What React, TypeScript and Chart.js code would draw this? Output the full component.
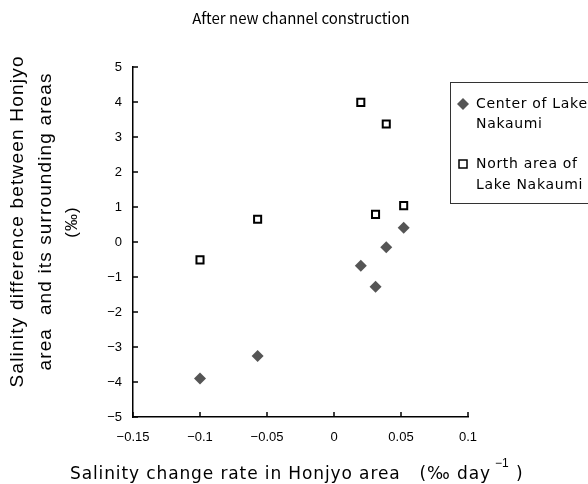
import React, { useEffect, useRef } from "react";
import { Chart, registerables } from "chart.js";

Chart.register(...registerables);

const centerX = [-0.1, -0.057, 0.02, 0.031, 0.039, 0.052];
const centerY = [-3.9, -3.26, -0.68, -1.28, -0.15, 0.41];
const northX = [-0.1, -0.057, 0.02, 0.031, 0.039, 0.052];
const northY = [-0.51, 0.65, 3.99, 0.79, 3.37, 1.04];

const seriesNames = [["Center of Lake", "Nakaumi"], ["North area of", "Lake Nakaumi"]];
const chartTitle = "After new channel construction";
const yTitleLines = ["Salinity difference between Honjyo", "area  and its surrounding areas", "(‰)"];
const xTitle = "Salinity change rate in Honjyo area   (‰ day";

const W = 588;
const H = 484;
const LEFT = 133;
const RIGHT = 468;
const TOP = 67;
const BOTTOM = 417;

const GOTHIC = "'Noto Sans CJK JP', 'Noto Sans', sans-serif";
const DEJAVU = "'DejaVu Sans', sans-serif";
const ARIAL = "'Liberation Sans', Arial, sans-serif";

function spacingFor(ctx: any, text: string, target: number) {
  ctx.letterSpacing = "0px";
  const w = ctx.measureText(text).width;
  return (target - w) / Math.max(1, text.length - 1);
}

const decorPlugin = {
  id: "decor",
  afterDraw(chart: any) {
    const ctx = chart.ctx;
    const xs = chart.scales.x;
    const ys = chart.scales.y;
    const area = chart.chartArea;
    ctx.save();
    // inside ticks
    ctx.strokeStyle = "#000";
    ctx.lineWidth = 1.5;
    ys.ticks.forEach((t: any) => {
      const py = ys.getPixelForValue(t.value);
      ctx.beginPath();
      ctx.moveTo(area.left, py);
      ctx.lineTo(area.left + 5, py);
      ctx.stroke();
    });
    xs.ticks.forEach((t: any) => {
      const px = xs.getPixelForValue(t.value);
      ctx.beginPath();
      ctx.moveTo(px, area.bottom);
      ctx.lineTo(px, area.bottom - 5);
      ctx.stroke();
    });
    // title
    ctx.fillStyle = "#000";
    ctx.textAlign = "center";
    ctx.textBaseline = "middle";
    ctx.font = `15px ${GOTHIC}`;
    ctx.fillText(chartTitle, 301, 18);
    // x title
    ctx.textAlign = "left";
    ctx.textBaseline = "alphabetic";
    ctx.font = `17px ${DEJAVU}`;
    const xs1 = spacingFor(ctx, xTitle, 490 - 70);
    ctx.letterSpacing = `${xs1}px`;
    ctx.fillText(xTitle, 70, 479);
    ctx.letterSpacing = "0px";
    ctx.font = `12px ${ARIAL}`;
    ctx.fillText("−1", 495, 467);
    ctx.font = `17px ${DEJAVU}`;
    ctx.fillText(")", 516, 479);
    // y title
    ctx.save();
    ctx.translate(0, 222);
    ctx.rotate(-Math.PI / 2);
    ctx.textAlign = "center";
    ctx.textBaseline = "alphabetic";
    ctx.font = `19px ${ARIAL}`;
    const s1 = spacingFor(ctx, yTitleLines[0], 331);
    ctx.letterSpacing = `${s1}px`;
    ctx.fillText(yTitleLines[0], s1 / 2, 23);
    const s2 = spacingFor(ctx, yTitleLines[1], 297);
    ctx.letterSpacing = `${s2}px`;
    ctx.fillText(yTitleLines[1], s2 / 2, 51);
    ctx.letterSpacing = "1px";
    ctx.font = `17px ${ARIAL}`;
    ctx.fillText(yTitleLines[2], 0, 77);
    ctx.letterSpacing = "0px";
    ctx.restore();
    // legend
    ctx.strokeStyle = "#333";
    ctx.lineWidth = 1;
    ctx.strokeRect(450.5, 82.5, 150, 121);
    ctx.font = `14px ${DEJAVU}`;
    ctx.textAlign = "left";
    ctx.textBaseline = "middle";
    const ls = spacingFor(ctx, seriesNames[0][0], 111);
    // diamond
    ctx.fillStyle = "#555";
    ctx.beginPath();
    ctx.moveTo(463, 98);
    ctx.lineTo(469, 104);
    ctx.lineTo(463, 110);
    ctx.lineTo(457, 104);
    ctx.closePath();
    ctx.fill();
    ctx.fillStyle = "#000";
    ctx.letterSpacing = `${ls}px`;
    ctx.fillText(seriesNames[0][0], 476, 104);
    ctx.fillText(seriesNames[0][1], 476, 124);
    ctx.letterSpacing = "0px";
    // square
    ctx.fillStyle = "#fff";
    ctx.strokeStyle = "#000";
    ctx.lineWidth = 1.5;
    ctx.fillRect(459, 160, 8, 8);
    ctx.strokeRect(459, 160, 8, 8);
    ctx.fillStyle = "#000";
    ctx.letterSpacing = `${ls}px`;
    ctx.fillText(seriesNames[1][0], 476, 164);
    ctx.fillText(seriesNames[1][1], 476, 185);
    ctx.letterSpacing = "0px";
    ctx.restore();
  },
};

export default function App() {
  const ref = useRef<HTMLCanvasElement>(null);
  useEffect(() => {
    const chart = new Chart(ref.current!, {
      type: "scatter",
      data: {
        datasets: [
          {
            label: seriesNames[0].join(" "),
            data: centerX.map((x, i) => ({ x, y: centerY[i] })),
            pointStyle: "rectRot",
            pointRadius: 6,
            backgroundColor: "#555",
            borderColor: "#555",
            borderWidth: 0,
          },
          {
            label: seriesNames[1].join(" "),
            data: northX.map((x, i) => ({ x, y: northY[i] })),
            pointStyle: "rect",
            pointRadius: 5,
            backgroundColor: "#fff",
            borderColor: "#000",
            borderWidth: 2,
          },
        ],
      },
      options: {
        responsive: false,
        animation: false,
        layout: { padding: { top: TOP, right: W - RIGHT, left: 0, bottom: 0 } },
        plugins: { legend: { display: false }, tooltip: { enabled: false }, title: { display: false } },
        scales: {
          x: {
            type: "linear",
            min: -0.15,
            max: 0.1,
            afterFit: (s: any) => { s.height = H - BOTTOM; },
            ticks: {
              stepSize: 0.05,
              padding: 13,
              color: "#000",
              font: { family: ARIAL, size: 13 },
              callback: (v: any) => {
                const n = Math.round(Number(v) * 100) / 100;
                return n < 0 ? "−" + String(-n) : String(n);
              },
            },
            grid: { display: true, drawOnChartArea: false, drawTicks: false },
            border: { display: true, color: "#000", width: 1.5 },
          },
          y: {
            type: "linear",
            min: -5,
            max: 5,
            afterFit: (s: any) => { s.width = LEFT; },
            ticks: {
              stepSize: 1,
              padding: 11,
              color: "#000",
              font: { family: ARIAL, size: 13 },
              callback: (v: any) => (Number(v) < 0 ? "−" + String(-Number(v)) : String(v)),
            },
            grid: { display: true, drawOnChartArea: false, drawTicks: false },
            border: { display: true, color: "#000", width: 1.5 },
          },
        },
      },
      plugins: [decorPlugin],
    });
    return () => chart.destroy();
  }, []);
  return (
    <div style={{ position: "fixed", left: 0, top: 0, width: W, height: H, background: "#fff" }}>
      <canvas ref={ref} width={W} height={H} style={{ width: W, height: H }} />
    </div>
  );
}
